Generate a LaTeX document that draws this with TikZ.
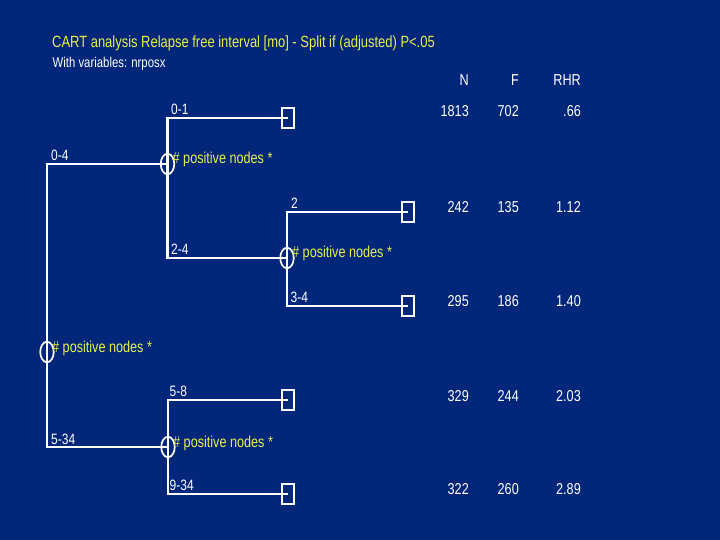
\documentclass[tikz,border=0pt]{standalone}
\usepackage{fontspec}
\setmainfont{Liberation Sans}[FakeStretch=0.8]
\usetikzlibrary{shapes.geometric, positioning, calc}
\definecolor{slideblue}{RGB}{2, 38, 122}
\definecolor{cartyellow}{RGB}{232, 240, 72}

\tikzset{
	branch/.style={draw=white, line width=2.6pt},
	splitnode/.style={ellipse, draw=white, line width=1.7pt,
		minimum width=13.5pt, minimum height=20.5pt, inner sep=0pt},
	leafbox/.style={rectangle, draw=white, line width=1.9pt,
		minimum width=12.5pt, minimum height=20.5pt, inner sep=0pt},
	splitlbl/.style={anchor=base west, text=cartyellow, inner sep=0pt,
		font=\fontsize{15.8}{19}\selectfont},
	cutlbl/.style={anchor=base west, text=white, inner sep=0pt,
		font=\fontsize{15}{18}\selectfont},
	numlbl/.style={anchor=base east, text=white, inner sep=0pt,
		font=\fontsize{15.8}{19}\selectfont},
}

\begin{document}
\begin{tikzpicture}[x=1pt, y=-1pt]
	% ── Slide background ────────────────────────────────────────────
	\fill[slideblue] (0,0) rectangle (720,540);
	\useasboundingbox (0,0) rectangle (720,540);
	
	% ── Title ───────────────────────────────────────────────────────
	\node[anchor=base west, text=cartyellow, inner sep=0pt,
	font=\fontsize{16.2}{19}\selectfont] (title) at (52,48)
	{CART analysis Relapse free interval [mo] - Split if (adjusted) P<.05};
	\node[anchor=base west, text=white, inner sep=0pt,
	font=\fontsize{14.2}{17}\selectfont] (subtitle) at (52.5,68)
	{With variables: nrposx};
	
	% ── Split nodes and leaves ──────────────────────────────────────
	\node[splitnode] (root) at (47,352) {};
	\node[splitnode] (nA) at (167.5,164) {};
	\node[splitnode] (nB) at (287,258) {};
	\node[splitnode] (nC) at (168,447) {};
	
	\node[leafbox] (t1) at (288,118) {};
	\node[leafbox] (t2) at (408,212) {};
	\node[leafbox] (t3) at (408,306) {};
	\node[leafbox] (t4) at (288,400) {};
	\node[leafbox] (t5) at (288,494) {};
	
	% ── Branches ────────────────────────────────────────────────────
	\draw[branch] (nA.center) -| (root.center) |- (nC.center);
	\draw[branch] (t1.center) -| (nA.center) |- (nB.center);
	\draw[branch] (t2.center) -| (nB.center) |- (t3.center);
	\draw[branch] (t4.center) -| (nC.center) |- (t5.center);
	
	% ── Split labels ────────────────────────────────────────────────
	\foreach \nd in {root, nA, nB, nC}{
		\node[splitlbl] (l\nd) at ([xshift=5pt]\nd.center) {\# positive nodes *};
	}
	
	% ── Cut points ──────────────────────────────────────────────────
	\node[cutlbl] (c04) at (51,161) {0-4};
	\node[cutlbl] (c01) at (171,114.5) {0-1};
	\node[cutlbl] (c24) at (171,254.5) {2-4};
	\node[cutlbl] (c2) at (291,208) {2};
	\node[cutlbl] (c34) at (290.5,302.5) {3-4};
	\node[cutlbl] (c534) at (51,444) {5-34};
	\node[cutlbl] (c58) at (169.5,396.5) {5-8};
	\node[cutlbl] (c934) at (169.5,490.5) {9-34};
	
	% ── Table: N, F, RHR ────────────────────────────────────────────
	\foreach \xx/\hd in {469/N, 519/F, 581/RHR}{
		\node[numlbl] (h\hd) at (\xx,86) {\hd};
	}
	\foreach \yy/\nn/\ff/\rr [count=\i] in {117/1813/702/.66, 212/242/135/1.12,
		306/295/186/1.40, 401/329/244/2.03, 494/322/260/2.89}{
		\node[numlbl] (n\i) at (469,\yy) {\nn};
		\node[numlbl] (f\i) at (519,\yy) {\ff};
		\node[numlbl] (r\i) at (581,\yy) {\rr};
	}
\end{tikzpicture}
\end{document}
